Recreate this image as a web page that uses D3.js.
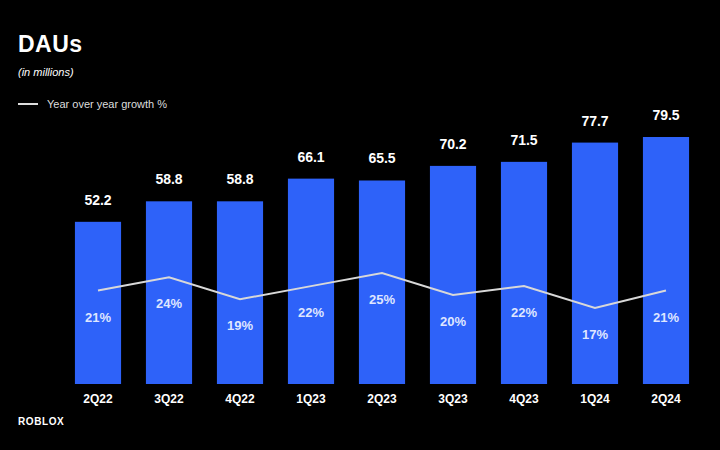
<!DOCTYPE html>
<html>
<head>
<meta charset="utf-8">
<script src="https://cdn.jsdelivr.net/npm/d3@7"></script>
<style>
  body { margin: 0; background: #000; }
  svg { display: block; font-family: "Liberation Sans", Arial, sans-serif; }
</style>
</head>
<body>
<svg id="chart" width="720" height="450"></svg>
<script>
//Data
let quarters = ["2Q22", "3Q22", "4Q22", "1Q23", "2Q23", "3Q23", "4Q23", "1Q24", "2Q24"];
let daus = [52.2, 58.8, 58.8, 66.1, 65.5, 70.2, 71.5, 77.7, 79.5];
let growth = [21, 24, 19, 22, 25, 20, 22, 17, 21];


main()


//------------------------------------------------------------------------------
//Main
//------------------------------------------------------------------------------
function main()
{
    var svg = d3.select("#chart");

    svg.append("rect").attr("width", 720).attr("height", 450).attr("fill", "#000");

    // title block
    svg.append("text")
        .attr("x", 18).attr("y", 52)
        .attr("fill", "#fff")
        .attr("font-size", 23).attr("font-weight", "bold")
        .attr("letter-spacing", 0.5)
        .text("DAUs");

    svg.append("text")
        .attr("x", 18).attr("y", 76)
        .attr("fill", "#fff")
        .attr("font-size", 11).attr("font-style", "italic")
        .text("(in millions)");

    // legend
    svg.append("line")
        .attr("x1", 18).attr("x2", 38).attr("y1", 104).attr("y2", 104)
        .attr("stroke", "#ddd").attr("stroke-width", 2);
    svg.append("text")
        .attr("x", 47).attr("y", 108)
        .attr("fill", "#ddd")
        .attr("font-size", 11)
        .text("Year over year growth %");

    // scales
    var x = d3.scaleBand()
        .domain(quarters)
        .range([62.5, 701.5])
        .paddingInner(0.35)
        .paddingOuter(0.175);

    var y = d3.scaleLinear()
        .domain([0, 79.5])
        .range([384, 137]);

    var yg = d3.scaleLinear()
        .domain([17, 25])
        .range([308, 273]);

    // bars
    svg.append("g").selectAll("rect")
        .data(daus)
        .enter()
        .append("rect")
        .attr("x", (d, i) => x(quarters[i]))
        .attr("y", d => y(d))
        .attr("width", x.bandwidth())
        .attr("height", d => y(0) - y(d))
        .attr("fill", "#2e62f9");

    // value labels
    svg.append("g").selectAll("text")
        .data(daus)
        .enter()
        .append("text")
        .attr("x", (d, i) => x(quarters[i]) + x.bandwidth() / 2)
        .attr("y", d => y(d) - 17)
        .attr("text-anchor", "middle")
        .attr("fill", "#fff")
        .attr("font-size", 14).attr("font-weight", "bold")
        .text(d => d.toFixed(1));

    // x axis labels
    var axis = d3.axisBottom(x).tickSize(0).tickPadding(0);
    var ax = svg.append("g")
        .attr("transform", "translate(0,394)")
        .call(axis);
    ax.select(".domain").remove();
    ax.selectAll("text")
        .attr("fill", "#fff")
        .attr("font-size", 12).attr("font-weight", "bold")
        .attr("font-family", "'Liberation Sans', Arial, sans-serif");

    // growth line
    var line = d3.line()
        .x((d, i) => x(quarters[i]) + x.bandwidth() / 2)
        .y(d => yg(d));

    svg.append("path")
        .datum(growth)
        .attr("d", line)
        .attr("fill", "none")
        .attr("stroke", "#d8d8d8")
        .attr("stroke-width", 2);

    svg.append("g").selectAll("text")
        .data(growth)
        .enter()
        .append("text")
        .attr("x", (d, i) => x(quarters[i]) + x.bandwidth() / 2)
        .attr("y", d => yg(d) + 31)
        .attr("text-anchor", "middle")
        .attr("fill", "#dfe6ff")
        .attr("font-size", 13).attr("font-weight", "bold")
        .text(d => d + "%");

    // logo
    svg.append("text")
        .attr("x", 18).attr("y", 425)
        .attr("fill", "#fff")
        .attr("font-size", 10).attr("font-weight", "bold")
        .attr("letter-spacing", 0.6)
        .text("ROBLOX");
}
</script>
</body>
</html>
